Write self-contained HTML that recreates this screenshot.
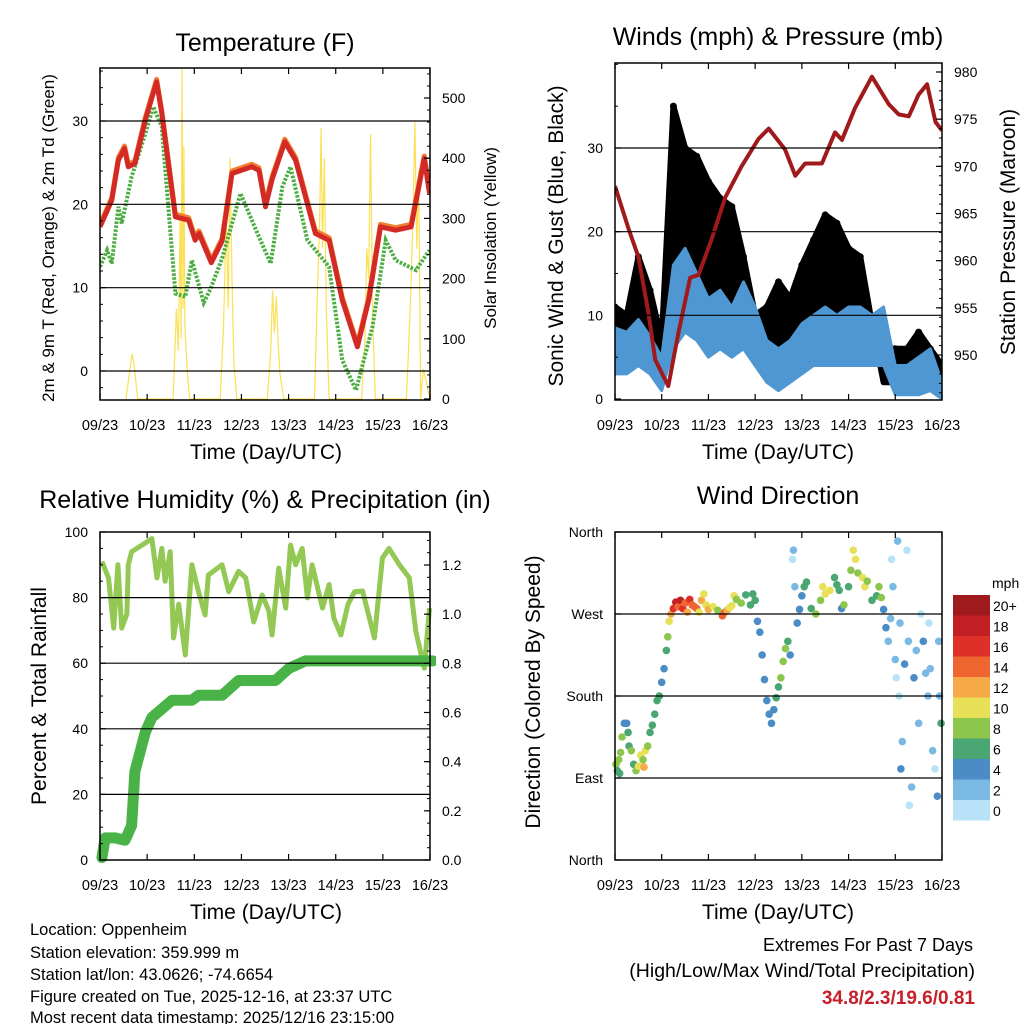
<!DOCTYPE html>
<html><head><meta charset="utf-8"><style>
html,body{margin:0;padding:0;background:#fff;}
svg{display:block;font-family:"Liberation Sans",sans-serif;}
</style></head><body>
<svg id="s" width="1024" height="1024" viewBox="0 0 1024 1024" xmlns="http://www.w3.org/2000/svg">
<text x="265" y="51" font-size="25" text-anchor="middle">Temperature (F)</text>
<text x="778" y="45" font-size="25" text-anchor="middle">Winds (mph) &amp; Pressure (mb)</text>
<text x="265" y="508" font-size="25" text-anchor="middle">Relative Humidity (%) &amp; Precipitation (in)</text>
<text x="778" y="504" font-size="25" text-anchor="middle">Wind Direction</text>
<text x="266" y="459" font-size="21" text-anchor="middle">Time (Day/UTC)</text>
<text x="778" y="459" font-size="21" text-anchor="middle">Time (Day/UTC)</text>
<text x="266" y="919" font-size="21" text-anchor="middle">Time (Day/UTC)</text>
<text x="778" y="919" font-size="21" text-anchor="middle">Time (Day/UTC)</text>
<text transform="translate(54,238) rotate(-90)" font-size="17" text-anchor="middle">2m &amp; 9m T (Red, Orange) &amp; 2m Td (Green)</text>
<text transform="translate(496,238) rotate(-90)" font-size="17" text-anchor="middle">Solar Insolation (Yellow)</text>
<text transform="translate(563,236) rotate(-90)" font-size="21" text-anchor="middle">Sonic Wind &amp; Gust (Blue, Black)</text>
<text transform="translate(1015,232) rotate(-90)" font-size="21" text-anchor="middle">Station Pressure (Maroon)</text>
<text transform="translate(46,696) rotate(-90)" font-size="21" text-anchor="middle">Percent &amp; Total Rainfall</text>
<text transform="translate(540,692) rotate(-90)" font-size="21" text-anchor="middle">Direction (Colored By Speed)</text>
<g font-size="16.5">
<text x="30" y="935">Location: Oppenheim</text>
<text x="30" y="958">Station elevation: 359.999 m</text>
<text x="30" y="980">Station lat/lon: 43.0626; -74.6654</text>
<text x="30" y="1002">Figure created on Tue, 2025-12-16, at 23:37 UTC</text>
<text x="30" y="1023">Most recent data timestamp: 2025/12/16 23:15:00</text>
</g>
<g>
<text x="973" y="951" font-size="18" text-anchor="end">Extremes For Past 7 Days</text>
<text x="975" y="977" font-size="19.5" text-anchor="end">(High/Low/Max Wind/Total Precipitation)</text>
<text x="975" y="1004" font-size="19" font-weight="bold" fill="#c8202a" text-anchor="end">34.8/2.3/19.6/0.81</text>
</g>
</svg>
<script>
const dayLabels=["09/23","10/23","11/23","12/23","13/23","14/23","15/23","16/23"];
// Temperature (F)
const tempT=[0,0.25,0.39,0.52,0.6,0.74,0.96,1.2,1.31,1.6,1.88,2.02,2.1,2.36,2.59,2.8,3.22,3.37,3.51,3.65,3.92,4.15,4.57,4.86,5.14,5.46,5.7,5.95,6.27,6.6,6.88,6.99];
const tempV=[17.3,20.5,25.3,26.7,24.5,24.9,30.1,34.7,30.9,18.5,18.1,15.7,16.5,13,15.6,23.7,24.5,24.1,19.7,23,27.5,25.3,16.5,15.7,8.5,2.9,8.5,17.3,16.9,17.3,25.5,21.3];
const dewT=[0,0.15,0.25,0.39,0.46,0.67,0.96,1.13,1.31,1.6,1.81,1.95,2.2,2.34,2.59,2.98,3.37,3.62,3.87,4.04,4.4,4.86,5.14,5.43,5.78,6.06,6.27,6.7,6.99];
const dewV=[12.5,14.5,12.9,19.7,17.7,23.3,28.5,31.7,29.3,9.3,8.9,13.3,8.2,9.8,13.5,21.3,16.1,12.9,22.1,24.5,15.7,12.5,1.3,-2.3,5.3,15.7,13.3,12.1,14.5];
const solarT=[0.55,0.62,0.68,0.72,0.76,0.8,1.55,1.62,1.66,1.7,1.72,1.74,1.76,1.78,1.8,1.85,1.9,2.55,2.62,2.68,2.72,2.76,2.8,2.84,2.9,3.55,3.62,3.66,3.7,3.74,3.78,3.82,3.9,4.55,4.62,4.66,4.69,4.72,4.76,4.8,4.86,5.55,5.62,5.66,5.7,5.74,5.78,5.84,6.5,6.58,6.64,6.68,6.72,6.76,6.8,6.86,7.0];
const solarV=[0,40,75,60,30,0,0,150,80,300,100,550,150,420,120,50,0,0,120,300,150,400,200,60,0,0,80,180,110,170,90,40,0,0,200,300,450,250,400,150,0,0,100,250,200,440,150,0,0,150,300,460,250,380,0,50,0];
// Winds
const windT=[0,0.25,0.5,0.75,1,1.25,1.5,1.75,2,2.25,2.5,2.75,3,3.25,3.5,3.75,4,4.25,4.5,4.75,5,5.25,5.5,5.75,6,6.25,6.5,6.75,7];
const windHigh=[8.5,8,9.5,7.5,5,16,18,15,12,13,11,14,11,7,6,7,9,10,11,10,11,11,10,11,4,4,5,6,2];
const windLow=[3,3,4,3,1,6,8,7,5,6,5,6,4,2,1,2,3,4,4,4,4,4,4,4,0.5,0.5,0.5,1,0];
const gustHigh=[11,10,17,13,7,35,30,29,26,24,23,17,10,11,14,12,16,19,22,21,18,17,9,6,6,6,8,6,4];
const gustLow=[5,6,6,5,2,12,15,13,10,9,9,10,6,4,4,5,7,9,10,9,9,9,9,2,2,2,2,3,1];
const presT=[0,0.29,0.5,0.71,0.86,1.14,1.36,1.61,1.79,2.07,2.36,2.71,3.07,3.29,3.64,3.86,4.07,4.43,4.71,4.86,5.14,5.5,5.86,6.07,6.29,6.5,6.68,6.86,7];
const presV=[967.9,963.4,960.4,954.6,949.5,946.7,952.4,958.2,958.5,962.3,966.7,970,972.9,974,971.8,969,970.3,970.3,973.6,972.8,976.2,979.5,976.6,975.5,975.3,977.6,978.7,974.7,973.8];
// Humidity & precipitation
const rhT=[0.04,0.18,0.29,0.38,0.46,0.57,0.6,0.67,0.89,1.1,1.21,1.31,1.38,1.49,1.56,1.67,1.81,1.95,2.09,2.23,2.3,2.59,2.73,2.94,3.09,3.26,3.44,3.58,3.65,3.79,3.94,4.04,4.15,4.29,4.4,4.5,4.72,4.86,4.96,5.11,5.26,5.4,5.57,5.64,5.82,5.99,6.13,6.35,6.56,6.7,6.88,6.99];
const rhV=[91,86,70.7,90,70.7,75,90,94,96,98,86,95,85,94,67.7,78,62.5,90,81.8,74.7,86.9,90,81.8,88,86,72.6,80.8,76,68.6,89,76.8,96,90,95,79.9,90,76.8,84,73.8,68.6,78,81.8,82,78,67.7,92,95,90,86,69.6,58.5,76.8];
const pcpT=[0.04,0.11,0.32,0.53,0.67,0.74,0.96,1.1,1.53,1.95,2.09,2.59,2.94,3.72,4.01,4.36,4.86,7.06];
const pcpV=[0.01,0.09,0.09,0.08,0.14,0.36,0.52,0.58,0.65,0.65,0.67,0.67,0.73,0.73,0.78,0.81,0.81,0.81];
// Wind direction (deg, 0=N bottom) colored by speed
const dirT=[0.02,0.05,0.08,0.1,0.12,0.15,0.2,0.25,0.28,0.3,0.35,0.4,0.45,0.5,0.55,0.6,0.62,0.65,0.7,0.75,0.8,0.85,0.9,0.95,1.0,1.05,1.1,1.13,1.16,1.2,1.25,1.3,1.35,1.4,1.45,1.5,1.55,1.6,1.65,1.7,1.75,1.8,1.85,1.9,1.95,2.0,2.1,2.2,2.3,2.35,2.4,2.45,2.5,2.55,2.6,2.7,2.8,2.9,2.95,3.0,3.05,3.1,3.15,3.2,3.25,3.3,3.35,3.4,3.45,3.5,3.55,3.6,3.65,3.7,3.75,3.8,3.82,3.85,3.9,3.95,4.0,4.05,4.1,4.2,4.3,4.4,4.45,4.5,4.6,4.7,4.75,4.8,4.85,4.9,5.0,5.05,5.1,5.15,5.2,5.3,5.35,5.4,5.5,5.6,5.65,5.7,5.75,5.8,5.85,5.9,5.92,5.95,6.0,6.02,6.05,6.08,6.1,6.12,6.15,6.2,6.25,6.28,6.3,6.35,6.4,6.45,6.5,6.55,6.6,6.65,6.7,6.72,6.75,6.8,6.85,6.9,6.93,6.95,6.98];
const dirV=[105,98,110,95,118,135,150,150,140,125,120,105,98,103,115,110,102,120,125,140,148,160,175,180,195,210,230,245,262,270,276,283,278,285,276,282,272,286,280,278,276,272,285,292,280,275,278,274,268,272,274,277,279,290,286,282,291,280,292,285,262,250,225,198,175,160,150,165,178,190,200,218,232,240,225,330,340,300,260,275,290,300,305,276,270,285,300,292,296,310,302,296,276,280,300,318,340,330,315,310,300,306,285,290,300,288,275,255,240,265,330,300,220,200,350,180,260,100,130,215,340,240,60,80,200,230,150,270,240,205,180,260,210,120,100,70,240,180,150,110,100,200];
const dirS=[8,6,7,6,8,7,4,4,5,6,8,6,7,10,10,8,11,9,7,6,6,5,5,5,4,4,6,8,10,12,15,17,14,18,16,14,12,15,13,14,13,10,12,10,9,11,9,8,14,13,11,10,9,9,8,7,6,6,5,5,4,4,4,3,4,4,4,4,5,6,8,8,7,5,3,0,1,1,4,3,4,5,6,6,7,8,9,10,9,6,5,6,4,7,6,8,9,9,8,10,9,8,6,5,7,8,4,3,2,1,0,2,1,0,2,0,1,3,2,3,0,1,0,2,4,2,1,0,3,1,2,0,1,2,0,4,1,2,5,3,3,2];
const speedLabels=["20+","18","16","14","12","10","8","6","4","2","0"];
const speedColors=["#9e1a1c","#c21f24","#de3029","#ef6530","#f6a947","#e8e056","#8cc64d","#4aa672","#4b8cc6","#7ab9e4","#b8e2f8"];

const NS="http://www.w3.org/2000/svg";
const svg=document.getElementById("s");
function mk(tag,attrs,parent){const e=document.createElementNS(NS,tag);for(const k in attrs)e.setAttribute(k,attrs[k]);(parent||svg).appendChild(e);return e;}
function lin(d0,d1,r0,r1){return v=>r0+(v-d0)*(r1-r0)/(d1-d0);}
function pathOf(ts,vs,sx,sy){return ts.map((t,i)=>(i?"L":"M")+sx(t).toFixed(1)+" "+sy(vs[i]).toFixed(1)).join(" ");}

function frame(name,x0,x1,y0,y1,sx,grid,sy,leftTicks,rightTicks,sy2,rMinor,lMinor){
  const g=mk("g",{});
  
  
  grid.forEach(v=>{const l=mk("line",{x1:x0,x2:x1,y1:sy(v),y2:sy(v),stroke:"#000","stroke-width":1.2},g);
    
    });
  dayLabels.forEach((lab,i)=>{const x=sx(i);
    mk("line",{x1:x,x2:x,y1:y1,y2:y1-6,stroke:"#000","stroke-width":1.2},g);
    mk("line",{x1:x,x2:x,y1:y0,y2:y0+6,stroke:"#000","stroke-width":1.2},g);
    const t=mk("text",{x:x,y:y1+30,"font-size":14.5,"text-anchor":"middle"},g);t.textContent=lab;
    
    });
  leftTicks.forEach(([v,lab])=>{const y=sy(v);
    mk("line",{x1:x0,x2:x0+6,y1:y,y2:y,stroke:"#000","stroke-width":1.2},g);
    const t=mk("text",{x:x0-12,y:y+5,"font-size":14,"text-anchor":"end"},g);t.textContent=lab;
    
    });
  (lMinor||[]).forEach(v=>mk("line",{x1:x0,x2:x0+3,y1:sy(v),y2:sy(v),stroke:"#000","stroke-width":1},g));
  if(rightTicks){rightTicks.forEach(([v,lab])=>{const y=sy2(v);
    mk("line",{x1:x1,x2:x1-6,y1:y,y2:y,stroke:"#000","stroke-width":1.2},g);
    const t=mk("text",{x:x1+12,y:y+5,"font-size":14},g);t.textContent=lab;
    
    });
    (rMinor||[]).forEach(v=>mk("line",{x1:x1,x2:x1-3,y1:sy2(v),y2:sy2(v),stroke:"#000","stroke-width":1},g));}
  mk("rect",{x:x0,y:y0,width:x1-x0,height:y1-y0,fill:"none",stroke:"#000","stroke-width":1.5},g);
}
function range(a,b,s){const r=[];for(let v=a;v<=b+1e-9;v+=s)r.push(+v.toFixed(3));return r;}

// ---------- Panel 1: Temperature ----------
(function(){
  const x0=100,x1=430,y0=68,y1=400;
  const sx=lin(0,7,x0,x1), sy=lin(0,30,371,121), sy2=lin(0,500,399,98);
  const clip=mk("clipPath",{id:"c1"});mk("rect",{x:x0,y:y0,width:x1-x0,height:y1-y0},clip);
  const g=mk("g",{"clip-path":"url(#c1)"});
  
  
  const so=mk("path",{d:pathOf(solarT,solarV,sx,sy2),fill:"none",stroke:"#fbe055","stroke-width":1.2},g);
  
  
  const dw=mk("path",{d:pathOf(dewT,dewV,sx,sy),fill:"none",stroke:"#4cae42","stroke-width":4,"stroke-dasharray":"2.5 1.5"},g);
  
  
  const t9=mk("path",{d:pathOf(tempT,tempV.map(v=>v+0.3),sx,sy),fill:"none",stroke:"#f08030","stroke-width":5,"stroke-linejoin":"round"},g);
  
  
  const t2=mk("path",{d:pathOf(tempT,tempV,sx,sy),fill:"none",stroke:"#d42a26","stroke-width":5,"stroke-linejoin":"round"},g);
  
  
  frame("temperature",x0,x1,y0,y1,sx,[0,10,20,30],sy,[[0,"0"],[10,"10"],[20,"20"],[30,"30"]],
    [[0,"0"],[100,"100"],[200,"200"],[300,"300"],[400,"400"],[500,"500"]],sy2,range(0,540,20),range(-2,36,2));
})();

// ---------- Panel 2: Winds & Pressure ----------
(function(){
  const x0=615,x1=942,y0=63,y1=400;
  const sx=lin(0,7,x0,x1), sy=lin(0,30,399,148), sy2=lin(950,980,355,72);
  const clip=mk("clipPath",{id:"c2"});mk("rect",{x:x0,y:y0,width:x1-x0,height:y1-y0},clip);
  const g=mk("g",{"clip-path":"url(#c2)"});
  
  
  const band=(hi,lo)=>pathOf(windT,hi,sx,sy)+" "+windT.slice().reverse().map((t,i)=>"L"+sx(t).toFixed(1)+" "+sy(lo[lo.length-1-i]).toFixed(1)).join(" ")+"Z";
  const gb=mk("path",{d:band(gustHigh,gustLow),fill:"#000",stroke:"#000","stroke-width":6,"stroke-linejoin":"round"},g);
  
  
  windT.forEach((t,i)=>{const c=mk("circle",{cx:sx(t),cy:sy(gustHigh[i]),r:3.5,fill:"#000"},g);
    
    });
  const wb=mk("path",{d:band(windHigh,windLow),fill:"#4f97d2",stroke:"#4f97d2","stroke-width":3,"stroke-linejoin":"round"},g);
  
  
  const pr=mk("path",{d:pathOf(presT,presV,sx,sy2),fill:"none",stroke:"#a01a1c","stroke-width":4,"stroke-linejoin":"round"},g);
  
  
  frame("winds",x0,x1,y0,y1,sx,[10,20,30],sy,[[0,"0"],[10,"10"],[20,"20"],[30,"30"]],
    [[950,"950"],[955,"955"],[960,"960"],[965,"965"],[970,"970"],[975,"975"],[980,"980"]],sy2,range(946,980,1),range(0,40,5));
})();

// ---------- Panel 3: RH & Precip ----------
(function(){
  const x0=100,x1=430,y0=532,y1=860;
  const sx=lin(0,7,x0,x1), sy=lin(0,100,860,532), sy2=lin(0,1.2,860,565);
  const clip=mk("clipPath",{id:"c3"});mk("rect",{x:x0-6,y:y0,width:x1-x0+12,height:y1-y0+6},clip);
  const g=mk("g",{"clip-path":"url(#c3)"});
  
  
  const rh=mk("path",{d:pathOf(rhT,rhV,sx,sy),fill:"none",stroke:"#92c853","stroke-width":5,"stroke-linejoin":"round"},g);
  
  
  const pc=mk("path",{d:pathOf(pcpT,pcpV,sx,sy2),fill:"none",stroke:"#49b347","stroke-width":11,"stroke-linejoin":"round","stroke-linecap":"round"},g);
  
  
  frame("humidity",x0,x1,y0,y1,sx,[20,40,60,80],sy,[[0,"0"],[20,"20"],[40,"40"],[60,"60"],[80,"80"],[100,"100"]],
    [[0,"0.0"],[0.2,"0.2"],[0.4,"0.4"],[0.6,"0.6"],[0.8,"0.8"],[1.0,"1.0"],[1.2,"1.2"]],sy2,range(0,1.3,0.05),range(0,100,5));
})();

// ---------- Panel 4: Wind direction ----------
(function(){
  const x0=615,x1=942,y0=532,y1=860;
  const sx=lin(0,7,x0,x1), sy=lin(0,360,860,532);
  const g=mk("g",{});
  
  
  const colorFor=s=>speedColors[10-Math.min(10,Math.round(s/2))];
  dirT.forEach((t,i)=>{const c=mk("circle",{cx:sx(t),cy:sy(dirV[i]),r:3.8,fill:colorFor(dirS[i])},g);
    
    });
  frame("direction",x0,x1,y0,y1,sx,[90,180,270],sy,[[0,"North"],[90,"East"],[180,"South"],[270,"West"],[360,"North"]],null,null);
  const cb=mk("g",{});
  
  
  const tt=mk("text",{x:992,y:588,"font-size":14},cb);tt.textContent="mph";
  speedLabels.forEach((lab,i)=>{const y=595+i*20.5;
    const r=mk("rect",{x:953,y:y,width:37,height:20.5,fill:speedColors[i]},cb);
    
    
    const t=mk("text",{x:993,y:y+16,"font-size":14},cb);t.textContent=lab;
    
    });
})();
</script>
</body></html>
